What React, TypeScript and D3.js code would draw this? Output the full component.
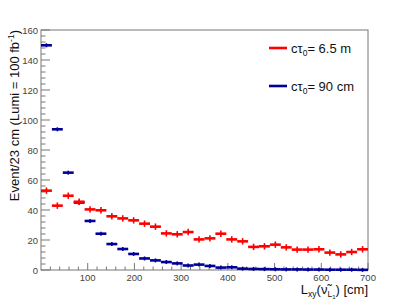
import * as d3 from "d3";

// bin centres come from the binning: 30 bins over 0..700 cm
const binCount = 30;
const xMin = 0;
const xMax = 700;

// ctau0 = 6.5 m (red)
const redValues = [
  52.9, 42.9, 49.5, 45.5, 40.4, 39.8, 35.8, 34.4, 33.1, 30.9,
  28.9, 24.4, 23.8, 25.3, 20.4, 21.1, 24.2, 20.4, 19.1, 15.4,
  15.8, 16.9, 15.1, 13.6, 13.6, 13.8, 11.6, 10.4, 12.0, 13.8,
];

// ctau0 = 90 cm (blue)
const blueValues = [
  149.8, 93.8, 64.9, 45.0, 32.7, 24.2, 17.3, 14.0, 10.7, 7.7,
  6.4, 5.3, 4.4, 3.0, 3.6, 2.7, 1.6, 1.8, 0.9, 0.7,
  0.6, 0.5, 0.4, 0.4, 0.3, 0.3, 0.2, 0.2, 0.2, 0.1,
];

const yTicks = [0, 20, 40, 60, 80, 100, 120, 140, 160];
const xTicks = [100, 200, 300, 400, 500, 600, 700];

const legendItems = [
  { label: "6.5 m", color: "#ff0000" },
  { label: "90 cm", color: "#000099" },
];

export default function App() {
  const width = 409;
  const height = 300;
  const frame = { left: 41, right: 368, top: 30, bottom: 270 };

  const x = d3.scaleLinear().domain([xMin, xMax]).range([frame.left, frame.right]);
  const y = d3.scaleLinear().domain([0, 160]).range([frame.bottom, frame.top]);
  const binW = (xMax - xMin) / binCount;
  const centres = d3.range(binCount).map(i => xMin + (i + 0.5) * binW);

  const yMinor = d3.range(0, 161, 4).filter(v => v % 20 !== 0);
  const xMinor = d3.range(20, 700, 20).filter(v => v % 100 !== 0);
  const axisColor = "#777";

  // blue first so the red crosses sit on top (bin 4 of blue is hidden)
  const series = [
    { values: blueValues, color: "#000099", err: 2 },
    { values: redValues, color: "#ff0000", err: 3.2 },
  ];

  return (
    <svg
      width={width}
      height={height}
      style={{ position: "absolute", left: 0, top: 0, background: "#fff" }}
      fontFamily="'Liberation Sans', Arial, sans-serif"
    >
      <rect x={0} y={0} width={width} height={height} fill="#fff" />
      {/* frame */}
      <rect
        x={frame.left}
        y={frame.top}
        width={frame.right - frame.left}
        height={frame.bottom - frame.top}
        fill="none"
        stroke={axisColor}
        strokeWidth={1}
      />
      {/* y ticks */}
      {yTicks.map(t => (
        <g key={"yt" + t}>
          <line x1={frame.left} x2={frame.left + 9} y1={y(t)} y2={y(t)} stroke={axisColor} />
          <text x={frame.left - 3} y={y(t) + 3.5} fontSize={9.5} fill="#444" textAnchor="end">
            {t}
          </text>
        </g>
      ))}
      {yMinor.map(t => (
        <line key={"ym" + t} x1={frame.left} x2={frame.left + 4.5} y1={y(t)} y2={y(t)} stroke={axisColor} />
      ))}
      {/* x ticks */}
      {xTicks.map(t => (
        <g key={"xt" + t}>
          <line x1={x(t)} x2={x(t)} y1={frame.bottom} y2={frame.bottom - 7} stroke={axisColor} />
          <text x={x(t)} y={frame.bottom + 11} fontSize={9.5} fill="#444" textAnchor="middle">
            {t}
          </text>
        </g>
      ))}
      {xMinor.map(t => (
        <line key={"xm" + t} x1={x(t)} x2={x(t)} y1={frame.bottom} y2={frame.bottom - 3.5} stroke={axisColor} />
      ))}

      {/* data crosses */}
      {series.map((s, si) => (
        <g key={"s" + si} stroke={s.color} strokeWidth={2.6}>
          {s.values.map((v, i) => {
            const cx = x(centres[i]);
            const cy = y(v);
            return (
              <g key={i}>
                <line x1={x(centres[i] - binW / 2)} x2={x(centres[i] + binW / 2)} y1={cy} y2={cy} />
                <line x1={cx} x2={cx} y1={cy - s.err} y2={cy + s.err} strokeWidth={1.6} />
              </g>
            );
          })}
        </g>
      ))}

      {/* legend */}
      {legendItems.map((item, i) => {
        const ly = 48 + i * 38;
        return (
          <g key={"lg" + i}>
            <line x1={269} x2={287} y1={ly} y2={ly} stroke={item.color} strokeWidth={2.6} />
            <text x={291} y={ly + 4.5} fontSize={13} fill="#111">
              cτ<tspan fontSize={8.5} dy={3}>0</tspan>
              <tspan dy={-3}>= {item.label}</tspan>
            </text>
          </g>
        );
      })}

      {/* axis titles */}
      <text
        transform={`translate(19, ${frame.top}) rotate(-90)`}
        textAnchor="end"
        fontSize={13}
        fill="#111"
      >
        Event/23 cm (Lumi = 100 fb<tspan fontSize={8.5} dy={-5}>-1</tspan>
        <tspan dy={5}>)</tspan>
      </text>
      <text x={frame.right} y={294} textAnchor="end" fontSize={13} fill="#111">
        L<tspan fontSize={8.5} dy={3}>xy</tspan>
        <tspan dy={-3}>(ν̃</tspan>
        <tspan fontSize={8.5} dy={3}>L</tspan>
        <tspan fontSize={6} dy={2}>1</tspan>
        <tspan dy={-5}>) [cm]</tspan>
      </text>
    </svg>
  );
}
